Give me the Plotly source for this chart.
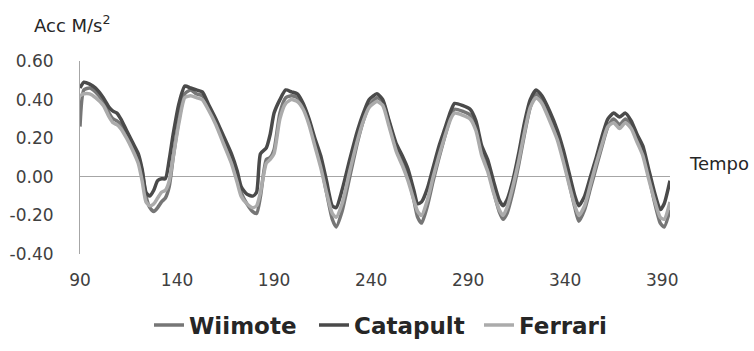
import plotly.graph_objects as go

tempo = [90, 92, 95, 98, 102, 105, 107, 109, 111, 114, 117, 120, 122, 124, 126, 128, 130, 132, 134, 136,
         138, 141, 144, 147, 150, 153, 156, 160, 164, 168, 171, 173, 176, 179, 181, 183, 186, 188, 190, 193,
         196, 199, 202, 205, 208, 211, 214, 217, 220, 222, 225, 229, 233, 236, 239, 243, 246, 249, 253, 256,
         259, 262, 264, 266, 269, 272, 275, 278, 281, 283, 287, 291, 294, 297, 300, 303, 306, 308, 310, 313,
         316, 319, 322, 325, 328, 332, 336, 339, 342, 345, 347, 350, 353, 356, 359, 362, 365, 368, 371, 374,
         377, 380, 383, 386, 389, 391, 394]

wiimote = [0.26, 0.45, 0.46, 0.44, 0.39, 0.33, 0.30, 0.29, 0.27, 0.22, 0.16, 0.10, 0.03, -0.10, -0.16, -0.18, -0.16, -0.13, -0.11, -0.05,
           0.10, 0.30, 0.43, 0.45, 0.43, 0.42, 0.37, 0.29, 0.19, 0.09, 0.00, -0.08, -0.14, -0.18, -0.19, -0.10, 0.09, 0.10, 0.14, 0.33,
           0.41, 0.42, 0.41, 0.37, 0.29, 0.18, 0.07, -0.08, -0.22, -0.26, -0.18, 0.00, 0.18, 0.29, 0.37, 0.41, 0.39, 0.29, 0.15, 0.08,
           0.00, -0.12, -0.21, -0.24, -0.15, -0.02, 0.10, 0.21, 0.31, 0.35, 0.34, 0.32, 0.26, 0.13, 0.05, -0.07, -0.18, -0.22, -0.19, -0.08,
           0.06, 0.22, 0.36, 0.43, 0.40, 0.31, 0.21, 0.10, -0.03, -0.16, -0.23, -0.17, -0.06, 0.05, 0.16, 0.26, 0.30, 0.27, 0.30, 0.27,
           0.20, 0.13, 0.01, -0.13, -0.24, -0.26, -0.17]

catapult = [0.46, 0.49, 0.48, 0.46, 0.41, 0.36, 0.34, 0.33, 0.30, 0.24, 0.18, 0.12, 0.04, -0.08, -0.10, -0.07, -0.02, -0.01, -0.01, 0.09,
            0.22, 0.38, 0.47, 0.46, 0.45, 0.44, 0.38, 0.30, 0.21, 0.12, 0.03, -0.05, -0.09, -0.10, -0.08, 0.12, 0.15, 0.22, 0.33, 0.40,
            0.45, 0.44, 0.43, 0.38, 0.30, 0.20, 0.11, -0.02, -0.15, -0.16, -0.07, 0.09, 0.24, 0.33, 0.40, 0.43, 0.40, 0.30, 0.17, 0.11,
            0.04, -0.07, -0.14, -0.13, -0.06, 0.05, 0.16, 0.25, 0.34, 0.38, 0.37, 0.35, 0.29, 0.16, 0.09, -0.02, -0.12, -0.15, -0.12, -0.02,
            0.12, 0.28, 0.40, 0.45, 0.42, 0.34, 0.24, 0.14, 0.02, -0.10, -0.15, -0.10, 0.00, 0.10, 0.21, 0.30, 0.33, 0.31, 0.33, 0.29,
            0.22, 0.16, 0.04, -0.08, -0.17, -0.14, -0.02]

ferrari = [0.42, 0.43, 0.43, 0.41, 0.37, 0.31, 0.28, 0.27, 0.25, 0.20, 0.14, 0.07, -0.02, -0.13, -0.15, -0.14, -0.11, -0.08, -0.07, -0.02,
           0.10, 0.28, 0.41, 0.42, 0.41, 0.40, 0.35, 0.27, 0.17, 0.07, -0.03, -0.10, -0.14, -0.16, -0.15, -0.08, 0.07, 0.09, 0.12, 0.30,
           0.38, 0.40, 0.39, 0.35, 0.27, 0.16, 0.05, -0.08, -0.19, -0.21, -0.14, 0.03, 0.19, 0.29, 0.36, 0.39, 0.37, 0.27, 0.13, 0.06,
           -0.02, -0.12, -0.18, -0.20, -0.12, 0.00, 0.11, 0.21, 0.30, 0.33, 0.32, 0.30, 0.24, 0.11, 0.03, -0.08, -0.17, -0.20, -0.16, -0.05,
           0.08, 0.23, 0.36, 0.41, 0.38, 0.29, 0.19, 0.08, -0.04, -0.15, -0.20, -0.15, -0.04, 0.07, 0.17, 0.26, 0.28, 0.25, 0.28, 0.25,
           0.18, 0.11, -0.01, -0.12, -0.21, -0.22, -0.13]

x_ticks = [90, 140, 190, 240, 290, 340, 390]
y_ticks = [-0.4, -0.2, 0.0, 0.2, 0.4, 0.6]

series = [("Wiimote", wiimote, "#767676"), ("Catapult", catapult, "#4a4a4a"), ("Ferrari", ferrari, "#ababab")]

fig = go.Figure()
for name, vals, col in series:
    fig.add_trace(go.Scatter(x=tempo, y=vals, name=name, mode="lines",
                             line=dict(color=col, width=3.5, shape="spline", smoothing=0.6)))

fig.update_layout(
    width=754, height=351,
    margin=dict(l=80, r=84, t=61, b=97, autoexpand=False),
    paper_bgcolor="white", plot_bgcolor="white",
    font=dict(family="DejaVu Sans", color="#404040"),
    showlegend=True,
    legend=dict(orientation="h", x=(149 - 80) / 590, xanchor="left",
                yref="container", y=1 - 325 / 351, yanchor="middle",
                font=dict(family="DejaVu Sans", size=23, weight="bold", color="#262626"),
                entrywidth=120, entrywidthmode="pixels", itemwidth=30),
    xaxis=dict(range=[90, 394], tickvals=x_ticks, ticktext=[str(v) for v in x_ticks],
               showgrid=False, zeroline=False, showline=False, automargin=False,
               ticks="outside", ticklen=11, tickcolor="rgba(0,0,0,0)",
               tickfont=dict(size=17, color="#404040")),
    yaxis=dict(range=[-0.4, 0.6], tickvals=y_ticks, ticktext=[f"{v:.2f}" for v in y_ticks],
               showgrid=False, zeroline=True, zerolinecolor="#a6a6a6", zerolinewidth=1,
               showline=True, linecolor="#a6a6a6", linewidth=1, automargin=False,
               ticks="outside", ticklen=22, tickcolor="rgba(0,0,0,0)",
               tickfont=dict(size=17, color="#404040")),
)

fig.add_annotation(text="Acc M/s<sup>2</sup>", xref="paper", yref="paper", x=(32 - 80) / 590, y=(254 - 24) / 193,
                   xanchor="left", yanchor="middle", showarrow=False,
                   font=dict(family="DejaVu Sans", size=18, color="#262626"))
fig.add_annotation(text="Tempo", xref="paper", yref="paper", x=(687 - 80) / 590, y=(254 - 163) / 193,
                   xanchor="left", yanchor="middle", showarrow=False,
                   font=dict(family="DejaVu Sans", size=18, color="#262626"))

fig.write_html("out.html")
